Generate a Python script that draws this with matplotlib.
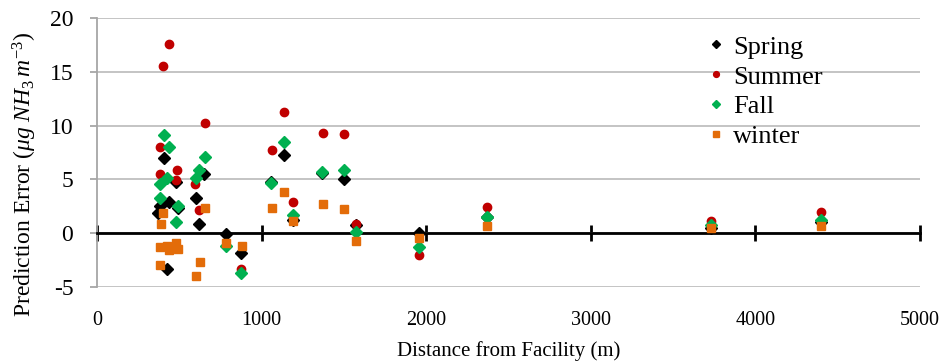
import matplotlib.pyplot as plt

plt.rcParams['font.family'] = 'Liberation Serif'
plt.rcParams['mathtext.fontset'] = 'custom'
plt.rcParams['mathtext.rm'] = 'Liberation Serif'
plt.rcParams['mathtext.it'] = 'Liberation Serif:italic'
plt.rcParams['axes.unicode_minus'] = False

# distance from facility (m) and prediction error, one pair of lists per season
spring_x = [406, 436, 385, 371, 428, 483, 493, 600, 651, 621, 783, 878,
            1059, 1134, 1189, 1369, 1501, 1572, 1959, 2369, 3730, 4400]
spring_y = [7.0, 2.9, 2.5, 1.9, -3.3, 4.8, 2.3, 3.3, 5.5, 0.9, -0.1, -1.8,
            4.75, 7.3, 1.2, 5.55, 5.0, 0.8, 0.0, 1.5, 0.5, 1.0]

summer_x = [404, 436, 381, 381, 489, 483, 598, 621, 655, 878,
            1061, 1134, 1191, 1371, 1503, 1572, 1959, 2369, 3730, 4400]
summer_y = [15.5, 17.6, 8.0, 5.5, 5.9, 4.9, 4.6, 2.2, 10.2, -3.3,
            7.7, 11.3, 2.9, 9.3, 9.2, 0.85, -2.0, 2.4, 1.1, 2.0]

fall_x = [406, 436, 655, 385, 428, 600, 621, 381, 493, 483, 783, 878,
          1059, 1134, 1189, 1369, 1501, 1572, 1959, 2369, 3730, 4400]
fall_y = [9.1, 8.0, 7.1, 4.6, 5.1, 5.1, 5.9, 3.3, 2.5, 1.0, -1.2, -3.7,
          4.7, 8.5, 1.7, 5.7, 5.9, 0.15, -1.3, 1.5, 0.8, 1.2]

winter_x = [404, 387, 381, 426, 436, 483, 491, 381, 655, 623, 600, 785, 880,
            1061, 1134, 1191, 1371, 1503, 1572, 1959, 2369, 3730, 4400]
winter_y = [1.9, 0.85, -1.25, -1.2, -1.55, -0.9, -1.45, -3.0, 2.3, -2.65, -4.0, -0.9, -1.2,
            2.3, 3.85, 1.1, 2.75, 2.25, -0.7, -0.4, 0.7, 0.45, 0.65]

x_ticks = [0, 1000, 2000, 3000, 4000, 5000]
y_ticks = [-5, 0, 5, 10, 15, 20]

fig = plt.figure(figsize=(9.47, 3.64), dpi=100)
ax = fig.add_axes([0.1024, 0.2115, 0.8691, 0.739])

ax.plot(spring_x, spring_y, 'D', color='black', ms=6, ls='none', label='Spring', zorder=3)
ax.plot(summer_x, summer_y, 'o', color='#c00000', ms=6, ls='none', label='Summer', zorder=3)
ax.plot(fall_x, fall_y, 'D', color='#00b050', ms=6, ls='none', label='Fall', zorder=3)
ax.plot(winter_x, winter_y, 's', color='#e36c09', ms=5.5, ls='none', label='winter', zorder=3)

ax.set_xlim(0, 5000)
ax.set_ylim(-5, 20)
ax.set_xticks(x_ticks)
ax.set_yticks(y_ticks)
ax.yaxis.grid(True, color='#bfbfbf', lw=1.3)
ax.set_axisbelow(True)

ax.spines['top'].set_visible(False)
ax.spines['right'].set_visible(False)
ax.spines['left'].set_color('#a6a6a6')
ax.spines['left'].set_linewidth(1.3)
ax.spines['bottom'].set_position(('data', 0))
ax.spines['bottom'].set_linewidth(2)
ax.spines['bottom'].set_zorder(2.5)

ax.tick_params(axis='x', direction='inout', length=12, width=2, labelbottom=False)
ax.tick_params(axis='y', direction='out', length=5, width=1.3, color='#a6a6a6',
               labelsize=17, pad=12)

# tick labels sit under the plot, not on the zero line
sec = ax.secondary_xaxis(0)
sec.set_xticks(x_ticks)
sec.tick_params(length=0, labelsize=14.5, pad=17)
sec.spines['bottom'].set_visible(False)
sec.set_xlabel('Distance from Facility (m)', fontsize=15, labelpad=8)

ax.set_ylabel(r'Prediction Error ($\mu g\ NH_3\, m^{-3}$)', fontsize=17)
ax.yaxis.set_label_coords(-0.07, 0.42)

ax.legend(loc='upper left', bbox_to_anchor=(0.726, 0.985), frameon=False,
          fontsize=19, markerscale=0.7, handlelength=0.6, handletextpad=0.35,
          labelspacing=0.24, borderpad=0)

fig.savefig('out.png', dpi=100)
